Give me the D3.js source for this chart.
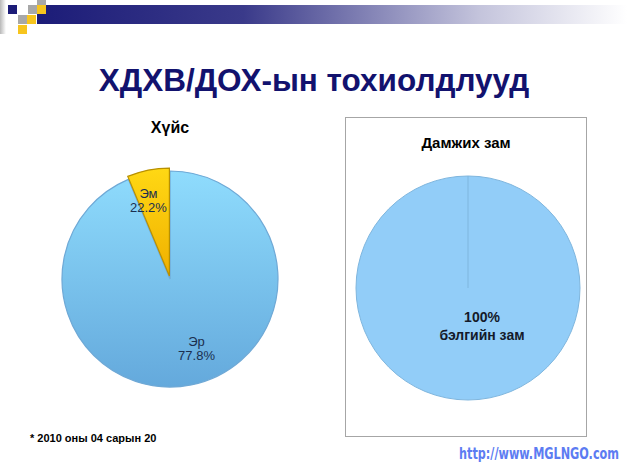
<!DOCTYPE html>
<html>
<head>
<meta charset="utf-8">
<script src="https://cdn.jsdelivr.net/npm/d3@7"></script>
<style>
  body { margin: 0; background: #fff; }
  svg { display: block; font-family: "Liberation Sans", Arial, sans-serif; }
</style>
</head>
<body>
<div class="slide"></div>
<script>
// gender pie: slice shares as drawn, labels as printed on the slide
var genderCats = ["Эр", "Эм"];
var genderShares = [93.7, 6.3];
var genderLabels = ["77.8%", "22.2%"];

// transmission route pie
var routeCats = ["бэлгийн зам"];
var routeShares = [100];
var routeLabels = ["100%"];

var W = 627, H = 465;

var svg = d3.select(".slide").append("svg")
      .attr("width", W)
      .attr("height", H);

var defs = svg.append("defs");

var barGrad = defs.append("linearGradient").attr("id", "barGrad");
barGrad.append("stop").attr("offset", "0%").attr("stop-color", "#1c1c78");
barGrad.append("stop").attr("offset", "35%").attr("stop-color", "#3a3a8a");
barGrad.append("stop").attr("offset", "75%").attr("stop-color", "#c4c4dc");
barGrad.append("stop").attr("offset", "100%").attr("stop-color", "#ffffff");

var sideGrad = defs.append("linearGradient").attr("id", "sideGrad");
sideGrad.append("stop").attr("offset", "0%").attr("stop-color", "#b8b8b8");
sideGrad.append("stop").attr("offset", "100%").attr("stop-color", "#ffffff");

var blueGrad = defs.append("linearGradient").attr("id", "blueGrad")
      .attr("x1", 0).attr("y1", 0).attr("x2", 0).attr("y2", 1);
blueGrad.append("stop").attr("offset", "0%").attr("stop-color", "#8fdcfd");
blueGrad.append("stop").attr("offset", "100%").attr("stop-color", "#64a9dc");

var goldGrad = defs.append("linearGradient").attr("id", "goldGrad")
      .attr("x1", 0).attr("y1", 0).attr("x2", 0).attr("y2", 1);
goldGrad.append("stop").attr("offset", "0%").attr("stop-color", "#ffd814");
goldGrad.append("stop").attr("offset", "100%").attr("stop-color", "#f0b000");

// header decoration
svg.append("rect").attr("x", 0).attr("y", 0).attr("width", 6).attr("height", 34)
   .style("fill", "url(#sideGrad)");
svg.append("rect").attr("x", 37).attr("y", 5).attr("width", 590).attr("height", 19)
   .style("fill", "url(#barGrad)");

var squares = [
  [8, 5, "#1c1c78"], [28, 5, "#a8a8a8"], [37, 0, "#a8a8a8"], [37, 5, "#f7c51e"],
  [18, 15, "#a8a8a8"], [27, 15, "#f7c51e"], [18, 25, "#f7c51e"]
];
svg.selectAll(".sq").data(squares).enter().append("rect")
   .attr("class", "sq")
   .attr("x", function(d){ return d[0]; })
   .attr("y", function(d){ return d[1]; })
   .attr("width", 9)
   .attr("height", function(d){ return d[1] === 0 ? 5 : 9; })
   .style("fill", function(d){ return d[2]; });

// title
svg.append("text")
   .attr("x", 314)
   .attr("y", 91)
   .attr("text-anchor", "middle")
   .attr("font-size", "31.5px")
   .style("font-weight", "bold")
   .style("fill", "#12126e")
   .text("ХДХВ/ДОХ-ын тохиолдлууд");

// left pie: gender
var pie = d3.pie().sort(null).value(function(d){ return d; });

var g1 = svg.append("g").attr("transform", "translate(170,279)");
var r1 = 108;
var arc1 = d3.arc().innerRadius(0).outerRadius(r1);
var lab1 = d3.arc().innerRadius(74).outerRadius(74);
var gArcs = pie(genderShares);

svg.append("text")
   .attr("x", 170).attr("y", 133)
   .attr("text-anchor", "middle")
   .attr("font-size", "16px")
   .style("font-weight", "bold")
   .text("Хүйс");

g1.selectAll(".slice").data(gArcs).enter().append("path")
   .attr("class", "slice")
   .attr("d", arc1)
   .attr("transform", function(d, i){
      if (i === 0) return null;
      var c = d3.arc().innerRadius(0).outerRadius(6).centroid(d);
      return "translate(" + c[0] + "," + c[1] + ")";
   })
   .style("fill", function(d, i){ return i === 0 ? "url(#blueGrad)" : "url(#goldGrad)"; })
   .style("stroke", function(d, i){ return i === 0 ? "#6fa9d6" : "#b89000"; })
   .style("stroke-width", 1.2);

var lblNudge = [[12, -7], [-7, -10]];
var lg = g1.selectAll(".lbl").data(gArcs).enter().append("text")
   .attr("class", "lbl")
   .attr("text-anchor", "middle")
   .attr("font-size", "13px")
   .style("fill", "#1b2f4f")
   .attr("transform", function(d, i){
      var c = lab1.centroid(d);
      return "translate(" + (c[0] + lblNudge[i][0]) + "," + (c[1] + lblNudge[i][1]) + ")";
   });
lg.append("tspan").attr("x", 0).attr("dy", "0.1em").text(function(d, i){ return genderCats[i]; });
lg.append("tspan").attr("x", 0).attr("dy", "1.1em").text(function(d, i){ return genderLabels[i]; });

// right panel: transmission route
svg.append("rect")
   .attr("x", 345.5).attr("y", 117.5)
   .attr("width", 241).attr("height", 319)
   .style("fill", "#fff")
   .style("stroke", "#a6a6a6");

svg.append("text")
   .attr("x", 466).attr("y", 148)
   .attr("text-anchor", "middle")
   .attr("font-size", "15px")
   .style("font-weight", "bold")
   .text("Дамжих зам");

var g2 = svg.append("g").attr("transform", "translate(468,288)");
var r2 = 112;
var arc2 = d3.arc().innerRadius(0).outerRadius(r2);
var rArcs = pie(routeShares);

g2.selectAll(".slice2").data(rArcs).enter().append("path")
   .attr("class", "slice2")
   .attr("d", arc2)
   .style("fill", "#92cdf8")
   .style("stroke", "#7fb6de")
   .style("stroke-width", 1);

g2.selectAll(".edge").data(rArcs).enter().append("line")
   .attr("class", "edge")
   .attr("x1", 0).attr("y1", 0)
   .attr("x2", function(d){ return r2 * Math.sin(d.startAngle); })
   .attr("y2", function(d){ return -r2 * Math.cos(d.startAngle); })
   .style("stroke", "#7fb6de")
   .style("stroke-width", 1);

var rl = g2.selectAll(".lbl2").data(rArcs).enter().append("text")
   .attr("class", "lbl2")
   .attr("text-anchor", "middle")
   .attr("font-size", "14px")
   .style("font-weight", "bold")
   .style("fill", "#141a2a")
   .attr("transform", "translate(14,34)");
rl.append("tspan").attr("x", 0).attr("dy", 0).text(function(d, i){ return routeLabels[i]; });
rl.append("tspan").attr("x", 0).attr("dy", "1.25em").text(function(d, i){ return routeCats[i]; });

// footnote
svg.append("text")
   .attr("x", 30).attr("y", 442)
   .attr("font-size", "11px")
   .style("font-weight", "bold")
   .text("* 2010 оны 04 сарын 20");

// watermark
svg.append("text")
   .attr("transform", "translate(459,459) scale(1,1.25)")
   .attr("font-size", "13px")
   .attr("textLength", 160)
   .attr("lengthAdjust", "spacingAndGlyphs")
   .style("font-family", "'DejaVu Sans Condensed', 'DejaVu Sans', sans-serif")
   .style("font-weight", "bold")
   .style("fill", "#5c7cf2")
   .text("http://www.MGLNGO.com");
</script>
</body>
</html>
